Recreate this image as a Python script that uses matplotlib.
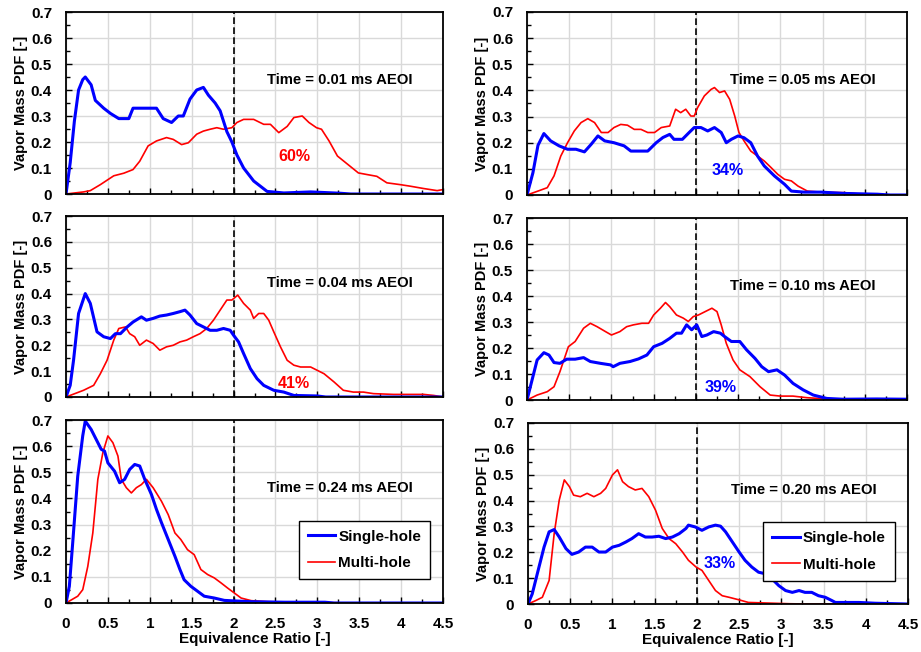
import numpy as np
import matplotlib
matplotlib.use('Agg')
import matplotlib.pyplot as plt
from matplotlib.ticker import MultipleLocator

plt.rcParams['font.family'] = ['Liberation Sans', 'DejaVu Sans']
plt.rcParams['font.weight'] = 'bold'

# --- 0.01 ms AEOI ---
x_s_001 = [0, 0.05, 0.1, 0.15, 0.2, 0.23, 0.3, 0.35, 0.45, 0.53, 0.63, 0.75, 0.8, 0.92, 0.98, 1.08, 1.16,
           1.26, 1.34, 1.4, 1.48, 1.56, 1.64, 1.7, 1.78, 1.84, 1.92, 1.98, 2.04, 2.12, 2.24, 2.4, 2.6, 2.92,
           3.27, 3.4, 4.5]
y_s_001 = [0, 0.12, 0.28, 0.4, 0.44, 0.45, 0.42, 0.36, 0.33, 0.31, 0.29, 0.29, 0.33, 0.33, 0.33, 0.33, 0.29,
           0.275, 0.3, 0.3, 0.365, 0.4, 0.41, 0.38, 0.35, 0.32, 0.24, 0.2, 0.15, 0.1, 0.05, 0.01, 0.004, 0.008,
           0.003, 0, 0]
x_m_001 = [0, 0.21, 0.29, 0.41, 0.57, 0.69, 0.8, 0.88, 0.98, 1.08, 1.2, 1.28, 1.38, 1.46, 1.56, 1.64, 1.72,
           1.8, 1.88, 1.98, 2.04, 2.12, 2.24, 2.36, 2.44, 2.54, 2.64, 2.72, 2.82, 2.9, 2.99, 3.05, 3.14, 3.24,
           3.39, 3.49, 3.59, 3.71, 3.83, 3.99, 4.11, 4.27, 4.43, 4.5]
y_m_001 = [0, 0.008, 0.013, 0.036, 0.07, 0.08, 0.094, 0.126, 0.185, 0.204, 0.217, 0.21, 0.19, 0.197, 0.23,
           0.242, 0.249, 0.255, 0.249, 0.255, 0.275, 0.287, 0.287, 0.268, 0.268, 0.236, 0.26, 0.294, 0.3,
           0.275, 0.255, 0.249, 0.204, 0.146, 0.107, 0.081, 0.075, 0.068, 0.043, 0.036, 0.03, 0.021, 0.013,
           0.017]

# --- 0.04 ms AEOI ---
x_s_004 = [0, 0.05, 0.09, 0.15, 0.23, 0.29, 0.37, 0.45, 0.53, 0.59, 0.65, 0.73, 0.8, 0.9, 0.96, 1.04, 1.12,
           1.2, 1.28, 1.36, 1.42, 1.48, 1.56, 1.64, 1.72, 1.8, 1.88, 1.96, 2.0, 2.06, 2.12, 2.2, 2.28, 2.36,
           2.48, 2.6, 2.72, 3.0, 3.1, 4.5]
y_s_004 = [0, 0.045, 0.142, 0.323, 0.4, 0.362, 0.252, 0.233, 0.226, 0.245, 0.245, 0.271, 0.29, 0.31, 0.297,
           0.304, 0.313, 0.317, 0.323, 0.33, 0.336, 0.317, 0.284, 0.271, 0.258, 0.258, 0.265, 0.258, 0.239,
           0.213, 0.168, 0.11, 0.071, 0.045, 0.026, 0.019, 0.006, 0.004, 0, 0]
x_m_004 = [0, 0.21, 0.33, 0.41, 0.49, 0.57, 0.63, 0.71, 0.76, 0.82, 0.88, 0.96, 1.04, 1.12, 1.2, 1.28, 1.36,
           1.44, 1.52, 1.6, 1.68, 1.76, 1.84, 1.92, 1.98, 2.05, 2.12, 2.2, 2.24, 2.3, 2.36, 2.42, 2.48, 2.56,
           2.64, 2.72, 2.8, 2.92, 3.0, 3.08, 3.2, 3.31, 3.43, 3.55, 3.67, 3.91, 4.11, 4.27, 4.39, 4.5]
y_m_004 = [0, 0.026, 0.045, 0.09, 0.142, 0.22, 0.265, 0.271, 0.245, 0.233, 0.2, 0.22, 0.207, 0.181, 0.194,
           0.2, 0.213, 0.22, 0.233, 0.245, 0.265, 0.297, 0.336, 0.375, 0.375, 0.394, 0.362, 0.336, 0.304,
           0.323, 0.323, 0.297, 0.252, 0.194, 0.142, 0.123, 0.116, 0.116, 0.103, 0.09, 0.058, 0.026, 0.019,
           0.019, 0.013, 0.01, 0.01, 0.01, 0.006, 0]

# --- 0.24 ms AEOI ---
x_s_024 = [0, 0.04, 0.08, 0.14, 0.2, 0.23, 0.3, 0.36, 0.42, 0.46, 0.5, 0.58, 0.64, 0.7, 0.76, 0.82, 0.88,
           0.94, 1.02, 1.08, 1.14, 1.22, 1.3, 1.36, 1.41, 1.49, 1.57, 1.65, 1.77, 1.89, 2.01, 2.21, 2.61,
           3.09, 3.2, 4.5]
y_s_024 = [0, 0.064, 0.23, 0.485, 0.64, 0.696, 0.664, 0.626, 0.588, 0.581, 0.536, 0.504, 0.46, 0.473, 0.511,
           0.53, 0.524, 0.473, 0.415, 0.358, 0.307, 0.243, 0.179, 0.128, 0.089, 0.064, 0.045, 0.026, 0.019,
           0.01, 0.008, 0.005, 0.003, 0.003, 0, 0]
x_m_024 = [0, 0.14, 0.2, 0.26, 0.32, 0.38, 0.44, 0.5, 0.56, 0.62, 0.66, 0.72, 0.78, 0.84, 0.9, 0.96, 1.04,
           1.14, 1.22, 1.3, 1.37, 1.45, 1.53, 1.61, 1.69, 1.77, 1.85, 1.93, 2.01, 2.09, 2.21, 2.41, 2.61,
           3.2, 3.4, 4.5]
y_m_024 = [0, 0.026, 0.051, 0.14, 0.268, 0.473, 0.575, 0.639, 0.613, 0.562, 0.473, 0.441, 0.421, 0.441,
           0.453, 0.473, 0.441, 0.389, 0.338, 0.268, 0.243, 0.204, 0.185, 0.128, 0.109, 0.096, 0.077, 0.057,
           0.038, 0.019, 0.009, 0.005, 0.004, 0.001, 0, 0]

# --- 0.05 ms AEOI ---
x_s_005 = [0, 0.07, 0.13, 0.2, 0.28, 0.38, 0.48, 0.58, 0.68, 0.76, 0.84, 0.92, 1.03, 1.15, 1.23, 1.35, 1.43,
           1.53, 1.61, 1.69, 1.74, 1.84, 1.92, 1.98, 2.06, 2.14, 2.22, 2.3, 2.36, 2.42, 2.5, 2.57, 2.65,
           2.73, 2.81, 2.93, 3.05, 3.13, 3.28, 3.48, 3.76, 4.15, 4.3, 4.5]
y_s_005 = [0, 0.085, 0.19, 0.235, 0.207, 0.188, 0.175, 0.175, 0.165, 0.194, 0.226, 0.207, 0.2, 0.188, 0.168,
           0.168, 0.168, 0.2, 0.22, 0.232, 0.213, 0.213, 0.239, 0.258, 0.258, 0.245, 0.258, 0.239, 0.2, 0.213,
           0.226, 0.219, 0.2, 0.149, 0.111, 0.073, 0.041, 0.015, 0.011, 0.011, 0.006, 0.003, 0, 0]
x_m_005 = [0, 0.13, 0.24, 0.32, 0.4, 0.48, 0.56, 0.64, 0.72, 0.8, 0.88, 0.96, 1.03, 1.11, 1.19, 1.27, 1.35,
           1.43, 1.51, 1.59, 1.69, 1.76, 1.82, 1.88, 1.94, 1.98, 2.02, 2.1, 2.18, 2.22, 2.28, 2.34, 2.4,
           2.46, 2.51, 2.57, 2.65, 2.73, 2.81, 2.89, 2.97, 3.05, 3.13, 3.21, 3.32, 3.48, 3.76, 3.96, 4.1, 4.5]
y_m_005 = [0, 0.015, 0.028, 0.073, 0.149, 0.2, 0.245, 0.277, 0.292, 0.277, 0.239, 0.239, 0.258, 0.27, 0.267,
           0.251, 0.251, 0.239, 0.239, 0.258, 0.264, 0.328, 0.315, 0.328, 0.302, 0.302, 0.334, 0.379, 0.404,
           0.411, 0.392, 0.398, 0.366, 0.302, 0.239, 0.207, 0.168, 0.149, 0.13, 0.105, 0.079, 0.06, 0.054,
           0.034, 0.015, 0.011, 0.009, 0.003, 0, 0]

# --- 0.10 ms AEOI ---
x_s_010 = [0, 0.06, 0.12, 0.2, 0.26, 0.32, 0.39, 0.47, 0.57, 0.67, 0.75, 0.87, 0.99, 1.02, 1.1, 1.22, 1.32,
           1.42, 1.5, 1.6, 1.69, 1.77, 1.83, 1.89, 1.95, 2.01, 2.07, 2.13, 2.21, 2.29, 2.34, 2.42, 2.52, 2.6,
           2.7, 2.78, 2.86, 2.96, 3.05, 3.15, 3.27, 3.39, 3.55, 3.74, 4.14, 4.5]
y_s_010 = [0, 0.077, 0.154, 0.182, 0.173, 0.144, 0.141, 0.157, 0.157, 0.163, 0.148, 0.141, 0.135, 0.128,
           0.141, 0.148, 0.158, 0.173, 0.205, 0.218, 0.237, 0.257, 0.257, 0.289, 0.27, 0.289, 0.244, 0.25,
           0.263, 0.257, 0.244, 0.225, 0.225, 0.193, 0.16, 0.128, 0.109, 0.116, 0.096, 0.064, 0.039, 0.019,
           0.006, 0.003, 0.004, 0.003]
x_m_010 = [0, 0.12, 0.24, 0.32, 0.39, 0.49, 0.57, 0.67, 0.75, 0.83, 0.93, 1.0, 1.1, 1.18, 1.26, 1.36, 1.44,
           1.5, 1.58, 1.64, 1.69, 1.77, 1.85, 1.91, 1.97, 2.03, 2.11, 2.19, 2.25, 2.3, 2.36, 2.44, 2.52, 2.64,
           2.76, 2.88, 3.0, 3.15, 3.31, 3.55, 3.94, 4.5]
y_m_010 = [0, 0.019, 0.032, 0.051, 0.109, 0.205, 0.225, 0.276, 0.295, 0.282, 0.263, 0.25, 0.263, 0.282,
           0.289, 0.295, 0.295, 0.327, 0.353, 0.375, 0.359, 0.327, 0.315, 0.302, 0.321, 0.327, 0.34, 0.353,
           0.34, 0.289, 0.218, 0.154, 0.116, 0.09, 0.051, 0.019, 0.015, 0.015, 0.009, 0.004, 0.004, 0.003]

# --- 0.20 ms AEOI ---
x_s_020 = [0, 0.05, 0.11, 0.19, 0.25, 0.31, 0.37, 0.45, 0.52, 0.6, 0.68, 0.76, 0.84, 0.92, 1.0, 1.08, 1.16,
           1.23, 1.31, 1.39, 1.47, 1.55, 1.63, 1.71, 1.79, 1.87, 1.9, 1.98, 2.06, 2.14, 2.22, 2.28, 2.34,
           2.42, 2.5, 2.57, 2.65, 2.73, 2.81, 2.89, 2.97, 3.05, 3.13, 3.21, 3.28, 3.36, 3.44, 3.52, 3.6,
           3.64, 3.92, 4.11, 4.5]
y_s_020 = [0, 0.039, 0.117, 0.22, 0.279, 0.288, 0.259, 0.214, 0.192, 0.201, 0.22, 0.22, 0.201, 0.201, 0.22,
           0.227, 0.24, 0.253, 0.272, 0.259, 0.259, 0.262, 0.253, 0.259, 0.272, 0.292, 0.305, 0.298, 0.285,
           0.298, 0.305, 0.301, 0.279, 0.24, 0.201, 0.169, 0.143, 0.123, 0.117, 0.097, 0.071, 0.052, 0.045,
           0.052, 0.045, 0.045, 0.032, 0.026, 0.013, 0.006, 0.006, 0.003, 0]
x_m_020 = [0, 0.09, 0.17, 0.25, 0.31, 0.37, 0.43, 0.49, 0.54, 0.62, 0.7, 0.78, 0.86, 0.92, 1.0, 1.06, 1.12,
           1.19, 1.27, 1.35, 1.43, 1.51, 1.59, 1.67, 1.75, 1.83, 1.9, 1.99, 2.06, 2.14, 2.22, 2.3, 2.38,
           2.5, 2.61, 2.81, 3.1, 3.3, 4.5]
y_m_020 = [0, 0.013, 0.026, 0.091, 0.272, 0.402, 0.48, 0.454, 0.421, 0.415, 0.428, 0.415, 0.428, 0.447,
           0.499, 0.519, 0.473, 0.454, 0.441, 0.447, 0.415, 0.363, 0.292, 0.253, 0.233, 0.201, 0.169, 0.143,
           0.13, 0.091, 0.052, 0.032, 0.026, 0.016, 0.006, 0.004, 0.001, 0, 0]

times = ['0.01', '0.04', '0.24', '0.05', '0.10', '0.20']
pct_text = ['60%', '41%', None, '34%', '39%', '33%']
pct_xy = [(2.72, 0.146), (2.72, 0.052), None, (2.38, 0.092), (2.29, 0.048), (2.27, 0.156)]
pct_color = ['red', 'red', None, '#0000ff', '#0000ff', '#0000ff']

single = [(x_s_001, y_s_001), (x_s_004, y_s_004), (x_s_024, y_s_024),
          (x_s_005, y_s_005), (x_s_010, y_s_010), (x_s_020, y_s_020)]
multi = [(x_m_001, y_m_001), (x_m_004, y_m_004), (x_m_024, y_m_024),
         (x_m_005, y_m_005), (x_m_010, y_m_010), (x_m_020, y_m_020)]

W, H = 921, 652
boxes = [(66, 12, 443, 194), (66, 216, 443, 397), (66, 420, 443, 603),
         (527, 12, 907, 195), (527, 218, 907, 400), (528, 423, 908, 604)]

fig = plt.figure(figsize=(9.21, 6.52), dpi=100)
for i in range(6):
    l, t, r, b = boxes[i]
    ax = fig.add_axes([l / W, 1 - b / H, (r - l) / W, (b - t) / H])
    ax.set_xlim(0, 4.5)
    ax.set_ylim(0, 0.7)
    ax.xaxis.set_major_locator(MultipleLocator(0.5))
    ax.xaxis.set_minor_locator(MultipleLocator(0.25))
    ax.yaxis.set_major_locator(MultipleLocator(0.1))
    ax.yaxis.set_minor_locator(MultipleLocator(0.05))
    ax.grid(True, which='major', color='#d9d9d9', linewidth=1.0)
    ax.set_axisbelow(True)
    ax.tick_params(which='both', direction='in', labelsize=11, width=1)
    ax.tick_params(axis='y', which='major', length=4, pad=10)
    ax.tick_params(axis='x', which='major', length=4, pad=10)
    ax.tick_params(which='minor', length=3)
    for s in ax.spines.values():
        s.set_linewidth(1.3)
    ax.yaxis.set_major_formatter(plt.FuncFormatter(lambda v, p: '0' if abs(v) < 1e-9 else f'{v:.1f}'))
    ax.xaxis.set_major_formatter(plt.FuncFormatter(lambda v, p: f'{v:g}'))
    if i % 3 != 2:
        ax.tick_params(axis='x', labelbottom=False)
    else:
        ax.set_xlabel('Equivalence Ratio [-]', fontsize=11, fontweight='bold', labelpad=1)
    ax.set_ylabel('Vapor Mass PDF [-]', fontsize=10.5, fontweight='bold', labelpad=2)

    ax.axvline(2, color='black', linestyle='--', linewidth=1.2, dashes=(4, 2))
    ax.plot(multi[i][0], multi[i][1], color='red', linewidth=1.2, label='Multi-hole')
    ax.plot(single[i][0], single[i][1], color='#0000ff', linewidth=2.2, label='Single-hole')

    ax.text(3.27, 0.44, f'Time = {times[i]} ms AEOI', fontsize=10.7, fontweight='bold',
            ha='center', va='center')
    if pct_text[i]:
        ax.text(pct_xy[i][0], pct_xy[i][1], pct_text[i], color=pct_color[i], fontsize=11.5,
                fontweight='bold', ha='center', va='center')
    if i % 3 == 2:
        h, lab = ax.get_legend_handles_labels()
        leg = ax.legend(h[::-1], lab[::-1], loc='center', bbox_to_anchor=(0.792, 0.29),
                        fancybox=False, framealpha=1, edgecolor='black', fontsize=11,
                        handlelength=1.8, handletextpad=0.2, borderpad=0.6, labelspacing=0.8)
        leg.get_frame().set_linewidth(1.0)

fig.savefig('out.png', dpi=100)
